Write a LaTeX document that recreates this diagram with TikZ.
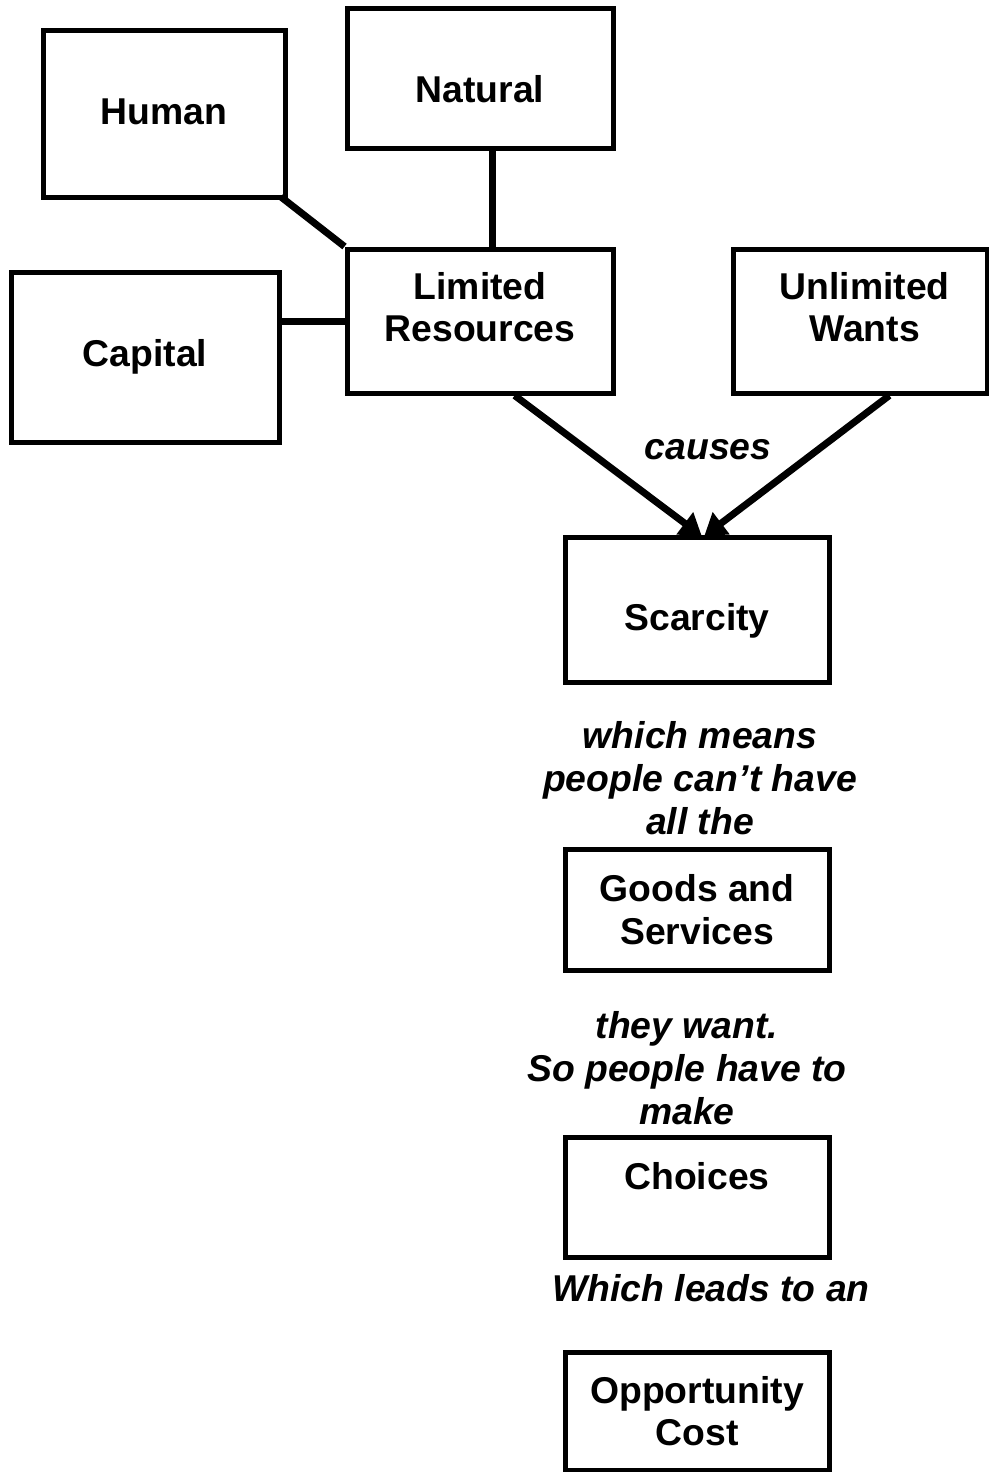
\documentclass[tikz,border=0pt]{standalone}
\usepackage{fontspec}
\setmainfont{Liberation Sans}
\usetikzlibrary{arrows.meta}

% move a (multi-line) box text inside its frame, keeping its size
\newcommand{\lifttext}[2]{\raisebox{#1}[\height][\depth]{\begin{tabular}{@{}c@{}}#2\end{tabular}}}

\tikzset{
  box/.style={draw, line width=3.75pt, align=center, inner sep=0pt,
    font=\bfseries\fontsize{28}{32}\selectfont},
  linklabel/.style={align=center, inner sep=0pt,
    font=\bfseries\itshape\fontsize{28}{32}\selectfont},
  link/.style={line width=5.25pt},
  causearrow/.style={line width=5.25pt, -{Triangle[length=16pt, width=20pt]}, shorten >=-2pt},
}

\begin{document}
\begin{tikzpicture}[x=0.75pt,y=0.75pt,yscale=-1,xscale=1]
\useasboundingbox (0,0) rectangle (989,1472);

% Resource boxes
\node [box, minimum width=181.5pt, minimum height=125.25pt] (human) at (164,113.5) {\lifttext{-1.5pt}{Human}};
\node [box, minimum width=199.5pt, minimum height=105pt] (natural) at (480,78) {\lifttext{-12pt}{Natural}};
\node [box, minimum width=201pt, minimum height=127.5pt] (capital) at (145,357) {Capital};
\node [box, minimum width=199.5pt, minimum height=108pt] (limited) at (480,321) {\lifttext{6.75pt}{Limited\\Resources}};
\node [box, minimum width=190.5pt, minimum height=108pt] (unlimited) at (860,321) {\lifttext{6.75pt}{\hspace*{7pt}Unlimited\\\hspace*{7pt}Wants}};

% Chain boxes
\node [box, minimum width=198pt, minimum height=108.75pt] (scarcity) at (697,609.5) {\lifttext{-9pt}{Scarcity}};
\node [box, minimum width=198pt, minimum height=90.75pt] (goods) at (697,909.5) {Goods and\\Services};
\node [box, minimum width=198pt, minimum height=90pt] (choices) at (697,1197) {Choices\\\mbox{}};
\node [box, minimum width=198pt, minimum height=88.5pt] (oppcost) at (697,1411) {Opportunity\\Cost};

% Connectors
\draw [link] ([xshift=-5pt,yshift=-2pt]human.south east) -- (limited.north west);
\draw [link] ([xshift=9pt]natural.south) -- ([xshift=9pt]limited.north);
\draw [link] (limited.west) -- (limited.west -| capital.east);
\draw [causearrow] ([xshift=26pt]limited.south) -- ([xshift=2pt]scarcity.north);
\draw [causearrow] ([xshift=22pt]unlimited.south) -- ([xshift=7pt]scarcity.north);

% Text Node
\node [linklabel] (causes) at (708,450) {causes};
% Text Node
\node [linklabel] (means) at (700,778) {which means\\people can't have\\all the};
% Text Node
\node [linklabel] (want) at (687,1068) {they want.\\So people have to\\make};
% Text Node
\node [linklabel] (leads) at (711,1288) {Which leads to an};

\end{tikzpicture}
\end{document}
